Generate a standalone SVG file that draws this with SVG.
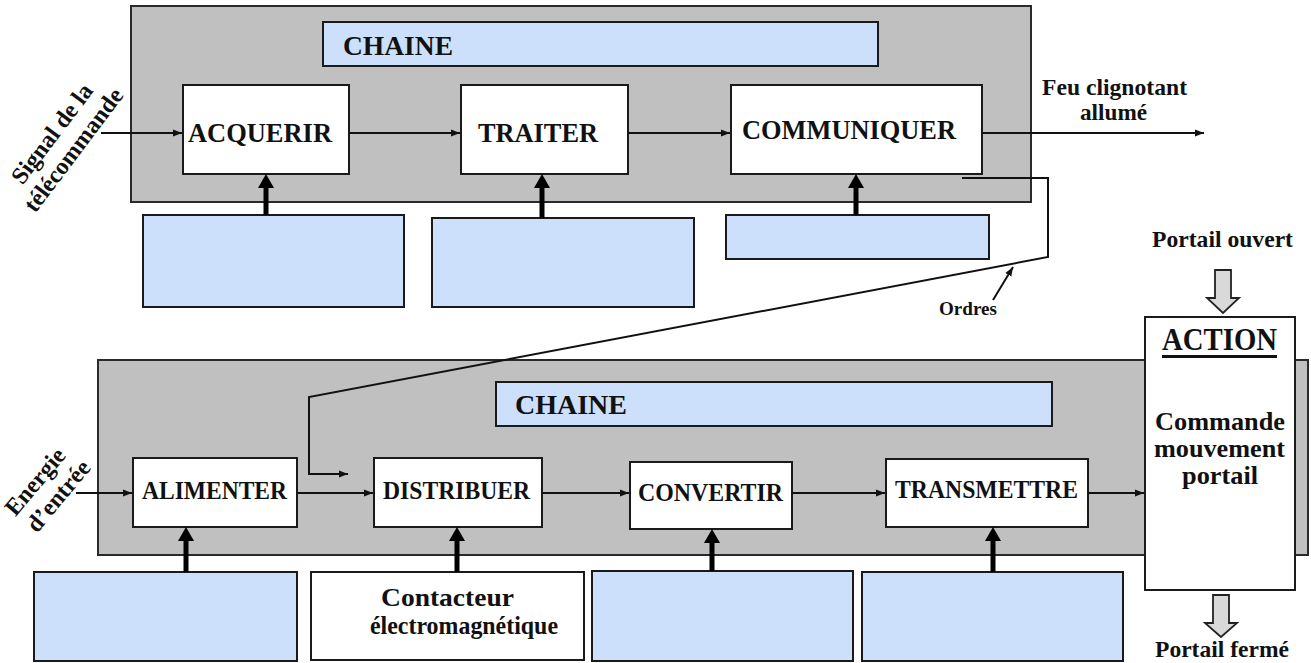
<svg xmlns="http://www.w3.org/2000/svg" width="1311" height="663" viewBox="0 0 1311 663">
<style>
text{font-family:"Liberation Serif","DejaVu Serif","Noto Serif",serif;font-weight:bold;fill:#111}
.gray{fill:#c0c0c0;stroke:#2a2a2a;stroke-width:2}
.blue{fill:#cce0fc;stroke:#1a1a1a;stroke-width:2}
.white{fill:#fff;stroke:#1a1a1a;stroke-width:2}
.thin{fill:none;stroke:#111;stroke-width:2}
.thick{fill:none;stroke:#000;stroke-width:5}
.hollow{fill:#d9d9d9;stroke:#222;stroke-width:1.8}
</style>
<defs>
<marker id="ah" markerUnits="userSpaceOnUse" markerWidth="10" markerHeight="8" refX="9" refY="4" orient="auto"><path d="M0,0.5 L9,4 L0,7.5 z" fill="#111"/></marker>
<marker id="th" markerUnits="userSpaceOnUse" markerWidth="15" markerHeight="17" refX="0" refY="8" orient="auto" overflow="visible"><path d="M0,0 L14,8 L0,16 z" fill="#000"/></marker>
</defs>

<g id="chain-info">
<rect class="gray" x="131" y="6" width="900" height="196"/>
<rect class="blue" x="323" y="22" width="555" height="44"/>
<text x="343" y="55" font-size="28" textLength="110" lengthAdjust="spacingAndGlyphs">CHAINE</text>
</g>
<g id="chain-energie">
<rect class="gray" x="98" y="360" width="1210" height="195"/>
<rect class="blue" x="496" y="382" width="556" height="44"/>
<text x="515" y="414" font-size="28" textLength="112" lengthAdjust="spacingAndGlyphs">CHAINE</text>
</g>

<g id="acquerir"><rect class="white" x="183" y="85" width="166" height="89"/><text x="188" y="142" font-size="27" textLength="144" lengthAdjust="spacingAndGlyphs">ACQUERIR</text></g>
<g id="traiter"><rect class="white" x="461" y="85" width="167" height="89"/><text x="478" y="142" font-size="27" textLength="120" lengthAdjust="spacingAndGlyphs">TRAITER</text></g>
<g id="communiquer"><rect class="white" x="731" y="85" width="251" height="89"/><text x="742" y="139" font-size="27" textLength="214" lengthAdjust="spacingAndGlyphs">COMMUNIQUER</text></g>

<g id="blue-top-1"><rect class="blue" x="143" y="215" width="261" height="92"/></g>
<g id="blue-top-2"><rect class="blue" x="432" y="218" width="262" height="89"/></g>
<g id="blue-top-3"><rect class="blue" x="726" y="215" width="263" height="44"/></g>

<g id="alimenter"><rect class="white" x="133" y="458" width="164" height="69"/><text x="142" y="499" font-size="25" textLength="145" lengthAdjust="spacingAndGlyphs">ALIMENTER</text></g>
<g id="distribuer"><rect class="white" x="374" y="458" width="168" height="69"/><text x="383" y="499" font-size="25" textLength="147" lengthAdjust="spacingAndGlyphs">DISTRIBUER</text></g>
<g id="convertir"><rect class="white" x="630" y="462" width="162" height="67"/><text x="638" y="501" font-size="25" textLength="145" lengthAdjust="spacingAndGlyphs">CONVERTIR</text></g>
<g id="transmettre"><rect class="white" x="886" y="459" width="202" height="68"/><text x="895" y="498" font-size="25" textLength="183" lengthAdjust="spacingAndGlyphs">TRANSMETTRE</text></g>

<g id="blue-bot-1"><rect class="blue" x="34" y="572" width="263" height="89"/></g>
<g id="contacteur"><rect class="white" x="311" y="572" width="273" height="88"/>
<text x="381" y="606" font-size="26" textLength="133" lengthAdjust="spacingAndGlyphs">Contacteur</text>
<text x="370" y="634" font-size="26" textLength="188" lengthAdjust="spacingAndGlyphs">électromagnétique</text></g>
<g id="blue-bot-3"><rect class="blue" x="592" y="571" width="261" height="90"/></g>
<g id="blue-bot-4"><rect class="blue" x="862" y="572" width="261" height="89"/></g>

<g id="action"><rect class="white" x="1145" y="317" width="150" height="273"/>
<text x="1162" y="350" font-size="31" textLength="115" lengthAdjust="spacingAndGlyphs">ACTION</text>
<rect x="1162" y="355" width="115" height="3" fill="#111"/>
<text x="1155" y="430" font-size="26" textLength="130" lengthAdjust="spacingAndGlyphs">Commande</text>
<text x="1154" y="457" font-size="26" textLength="131" lengthAdjust="spacingAndGlyphs">mouvement</text>
<text x="1182" y="484" font-size="26" textLength="76" lengthAdjust="spacingAndGlyphs">portail</text></g>

<g id="labels">
<g transform="translate(63,142) rotate(-53)">
<text x="0" y="-6" font-size="24" text-anchor="middle">Signal de la</text>
<text x="0" y="21" font-size="24" text-anchor="middle">télécommande</text>
</g>
<g transform="translate(47,489) rotate(-50)">
<text x="-2" y="-6" font-size="24" text-anchor="middle">Energie</text>
<text x="2" y="21" font-size="24" text-anchor="middle">d’entrée</text>
</g>
<text x="1042" y="95" font-size="24" textLength="145" lengthAdjust="spacingAndGlyphs">Feu clignotant</text>
<text x="1080" y="120" font-size="24" textLength="67" lengthAdjust="spacingAndGlyphs">allumé</text>
<text x="939" y="315" font-size="18" textLength="58" lengthAdjust="spacingAndGlyphs">Ordres</text>
<text x="1152" y="247" font-size="23" textLength="141" lengthAdjust="spacingAndGlyphs">Portail ouvert</text>
<text x="1155" y="657" font-size="23" textLength="134" lengthAdjust="spacingAndGlyphs">Portail fermé</text>
</g>

<g id="connectors">
<line class="thin" x1="101" y1="133" x2="182" y2="133" marker-end="url(#ah)"/>
<line class="thin" x1="349" y1="133" x2="460" y2="133" marker-end="url(#ah)"/>
<line class="thin" x1="628" y1="133" x2="730" y2="133" marker-end="url(#ah)"/>
<line class="thin" x1="982" y1="133" x2="1204" y2="133" marker-end="url(#ah)"/>
<polyline class="thin" points="962,178 1048,178 1048,257 309,397 309,474 348,474" marker-end="url(#ah)"/>
<line class="thin" x1="993" y1="300" x2="1013" y2="267" marker-end="url(#ah)"/>
<line class="thin" x1="76" y1="493" x2="132" y2="493" marker-end="url(#ah)"/>
<line class="thin" x1="297" y1="493" x2="373" y2="493" marker-end="url(#ah)"/>
<line class="thin" x1="542" y1="493" x2="629" y2="493" marker-end="url(#ah)"/>
<line class="thin" x1="792" y1="493" x2="885" y2="493" marker-end="url(#ah)"/>
<line class="thin" x1="1088" y1="493" x2="1144" y2="493" marker-end="url(#ah)"/>
<line class="thick" x1="266" y1="215" x2="266" y2="188" marker-end="url(#th)"/>
<line class="thick" x1="542" y1="218" x2="542" y2="188" marker-end="url(#th)"/>
<line class="thick" x1="856" y1="215" x2="856" y2="188" marker-end="url(#th)"/>
<line class="thick" x1="186" y1="572" x2="186" y2="541" marker-end="url(#th)"/>
<line class="thick" x1="457" y1="572" x2="457" y2="541" marker-end="url(#th)"/>
<line class="thick" x1="712" y1="571" x2="712" y2="543" marker-end="url(#th)"/>
<line class="thick" x1="993" y1="572" x2="993" y2="541" marker-end="url(#th)"/>
<path class="hollow" d="M1215,270 L1231,270 L1231,298 L1239,298 L1223,313 L1207,298 L1215,298 z"/>
<path class="hollow" d="M1213,595 L1229,595 L1229,623 L1237,623 L1221,637 L1205,623 L1213,623 z"/>
</g>
</svg>
